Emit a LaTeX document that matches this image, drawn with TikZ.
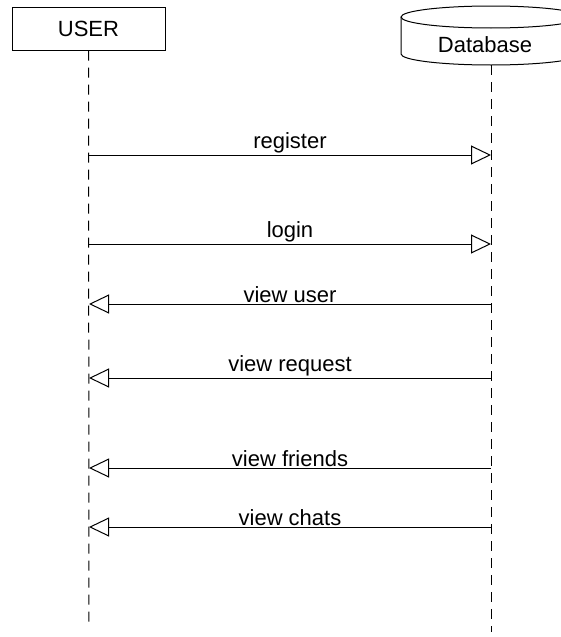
\documentclass[tikz,border=0pt]{standalone}
\usepackage{fontspec}
\setmainfont{Liberation Sans}
\usetikzlibrary{arrows.meta}

\tikzset{
  lifeline/.style={line width=1pt, dash pattern=on 10pt off 7pt},
  msg/.style={line width=1pt, -{Triangle[open, length=20pt, width=19pt, line width=1pt]}},
  msglabel/.style={font=\fontsize{22}{26}\selectfont, above, inner sep=1pt},
  objbox/.style={draw, line width=1pt, minimum width=153pt, minimum height=43pt, font=\fontsize{22}{26}\selectfont}
}

\begin{document}
\begin{tikzpicture}[x=1pt,y=-1pt]
		\useasboundingbox (0,0) rectangle (561,637);
		\clip (0,0) rectangle (561,637);
		% objects
		\node[objbox] (user) at (88.5,28.5) {USER};
		\draw[line width=1pt] (401,17) -- (401,54) arc[start angle=180, end angle=0, x radius=90, y radius=11] -- (581,17);
		\draw[line width=1pt] (491,17) ellipse [x radius=90, y radius=11];
		\node[font=\fontsize{22}{26}\selectfont] (db) at (485,45) {Database};
		% lifelines
		\coordinate (dbtop) at (491,65);
		\coordinate (userend) at (89,628);
		\coordinate (dbend) at (491,632);
		\draw[lifeline] (user.south) -- (userend);
		\draw[lifeline] (dbtop) -- (dbend);
		% messages
		\foreach \i/\y in {1/155, 2/244, 3/304, 4/378, 5/468, 6/527} {
			\coordinate (u\i) at (89,\y);
			\coordinate (d\i) at (491,\y);
		}
		\draw[msg] (u1) -- node[msglabel] {register} (d1);
		\draw[msg] (u2) -- node[msglabel] {login} (d2);
		\draw[msg] (d3) -- node[msglabel] {view user} (u3);
		\draw[msg] (d4) -- node[msglabel] {view request} (u4);
		\draw[msg] (d5) -- node[msglabel] {view friends} (u5);
		\draw[msg] (d6) -- node[msglabel] {view chats} (u6);
	\end{tikzpicture}
\end{document}
